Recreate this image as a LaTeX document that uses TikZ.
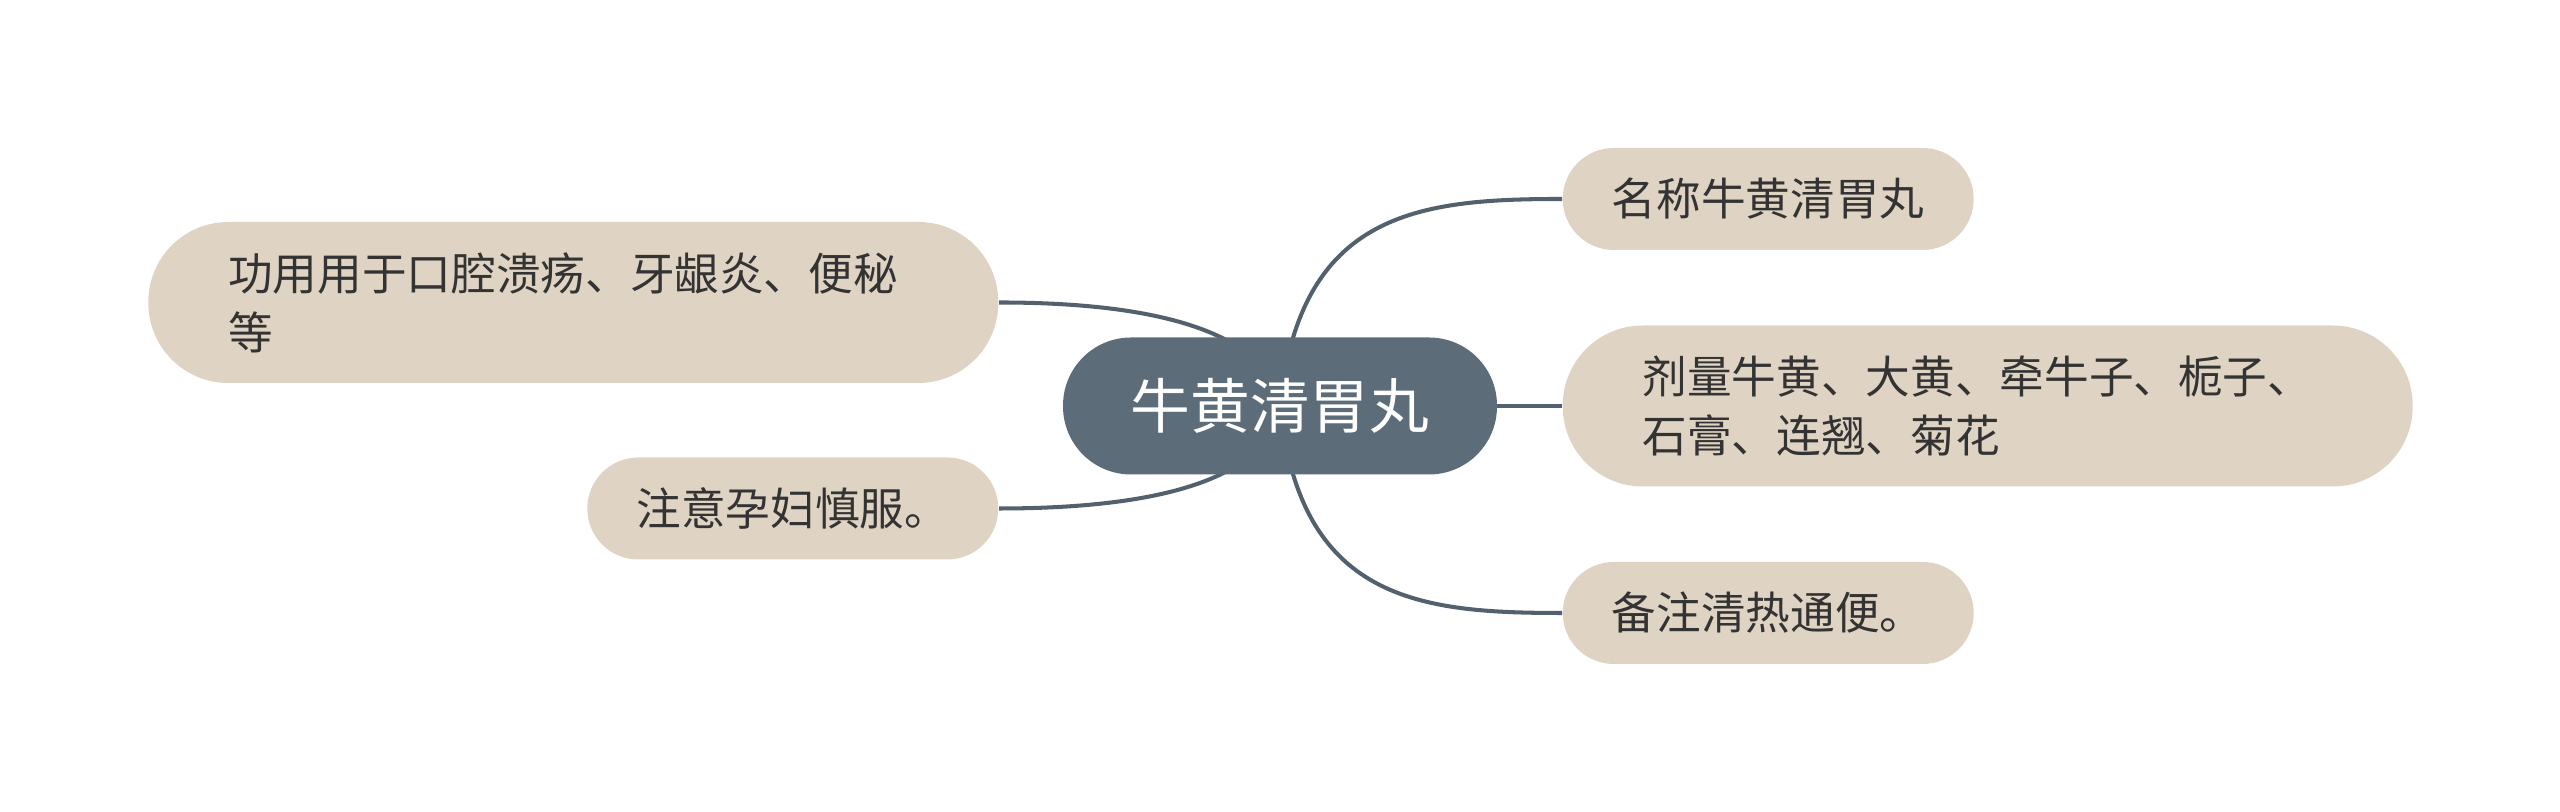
\documentclass[tikz,border=0pt]{standalone}
\usepackage{fontspec}
\usepackage{tikz}
\usetikzlibrary{backgrounds}
\newfontfamily\cjk{Noto Sans CJK SC}
\definecolor{hubfill}{HTML}{5C6D79}
\definecolor{branchline}{HTML}{52616D}
\definecolor{leaffill}{HTML}{DFD4C4}
\definecolor{leaftext}{HTML}{333333}
\tikzset{
  hub/.style={fill=hubfill, text=white, rounded corners=0.68cm,
    minimum width=4.34cm, minimum height=1.37cm,
    font=\cjk\fontsize{17}{20}\selectfont},
  leaf/.style={fill=leaffill, text=leaftext, rounded corners=0.51cm,
    minimum width=4.11cm, minimum height=1.02cm, inner xsep=0pt,
    font=\cjk\fontsize{12.7}{16.8}\selectfont},
  bigleaf/.style={leaf, rounded corners=0.8cm, minimum height=1.61cm,
    text width=6.9cm, inner xsep=0.8cm, align=left},
  branch/.style={draw=branchline, line width=1.15pt}
}

\begin{document}
\begin{tikzpicture}
\useasboundingbox (0,0) rectangle (25.6,8.12);
\node[hub] (main) at (12.80,4.06) {牛黄清胃丸};
\node[bigleaf, anchor=east] (gongyong) at (9.99,5.095) {功用用于口腔溃疡、牙龈炎、便秘\\等};
\node[leaf, anchor=east] (zhuyi) at (9.99,3.035) {注意孕妇慎服。};
\node[leaf, anchor=west] (mingcheng) at (15.62,6.13) {名称牛黄清胃丸};
\node[bigleaf, anchor=west] (jiliang) at (15.62,4.06) {剂量牛黄、大黄、牵牛子、栀子、\\石膏、连翘、菊花};
\node[leaf, anchor=west] (beizhu) at (15.62,1.99) {备注清热通便。};
\begin{pgfonlayer}{background}
\draw[branch] (main.center) .. controls +(-0.1,0.65) and +(1.81,0) .. (gongyong.east);
\draw[branch] (main.center) .. controls +(-0.1,-0.65) and +(1.81,0) .. (zhuyi.east);
\draw[branch] (main.center) .. controls +(0.2,1.95) and +(-1.42,0) .. (mingcheng.west);
\draw[branch] (main.center) -- (main.center -| jiliang.west);
\draw[branch] (main.center) .. controls +(0.2,-1.95) and +(-1.42,0) .. (beizhu.west);
\end{pgfonlayer}
\end{tikzpicture}
\end{document}
